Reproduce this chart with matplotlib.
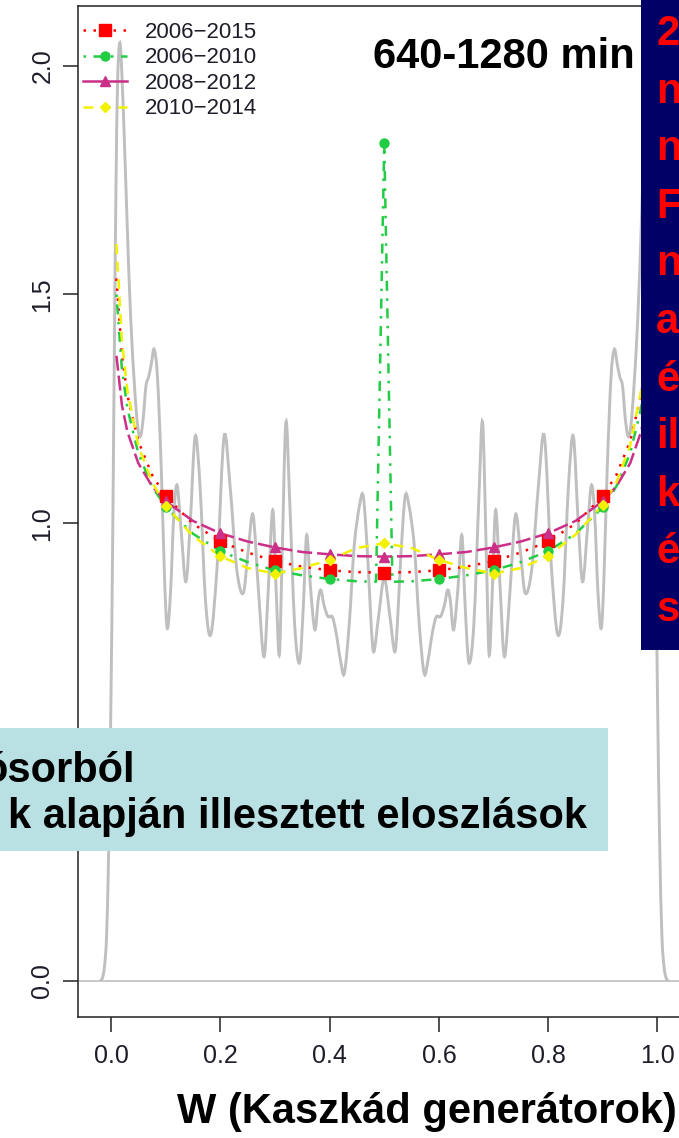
import matplotlib
matplotlib.use("Agg")
import matplotlib.pyplot as plt
from matplotlib.path import Path
from matplotlib.patches import PathPatch, Rectangle
from matplotlib.lines import Line2D
import numpy as np

plt.rcParams['font.family'] = ['Liberation Sans', 'DejaVu Sans']

W, H = 679, 1138

# ---- data -------------------------------------------------------------
series_labels = ["2006\u22122015", "2006\u22122010", "2008\u22122012", "2010\u22122014"]
series_colors = ["#ff0000", "#22cc44", "#cc2f88", "#f2f200"]

marker_x = [0.1, 0.2, 0.3, 0.4, 0.5, 0.6, 0.7, 0.8, 0.9]
red_marker_y = [1.059, 0.960, 0.917, 0.897, 0.892, 0.897, 0.917, 0.960, 1.059]
green_marker_y = [1.035, 0.939, 0.897, 0.878, 1.830, 0.878, 0.897, 0.939, 1.035]
magenta_marker_y = [1.048, 0.978, 0.947, 0.932, 0.927, 0.932, 0.947, 0.978, 1.048]
yellow_marker_y = [1.038, 0.928, 0.890, 0.920, 0.956, 0.920, 0.890, 0.928, 1.040]

curve_x = [0.01, 0.02, 0.03, 0.05, 0.075, 0.1, 0.15, 0.2, 0.25, 0.3, 0.35, 0.4, 0.45, 0.5,
           0.55, 0.6, 0.65, 0.7, 0.75, 0.8, 0.85, 0.9, 0.925, 0.95, 0.97, 0.98, 0.99]
red_curve_y = [1.535, 1.368, 1.280, 1.179, 1.106, 1.059, 0.999, 0.960, 0.936, 0.917, 0.905, 0.897, 0.893, 0.892,
               0.893, 0.897, 0.905, 0.917, 0.936, 0.960, 0.999, 1.059, 1.106, 1.179, 1.280, 1.368, 1.535]
magenta_curve_y = [1.366, 1.258, 1.200, 1.131, 1.081, 1.048, 1.005, 0.978, 0.960, 0.947, 0.937, 0.932, 0.928, 0.927,
                   0.928, 0.932, 0.937, 0.947, 0.960, 0.978, 1.005, 1.048, 1.081, 1.131, 1.200, 1.258, 1.366]
yellow_curve_y = [1.610, 1.400, 1.290, 1.170, 1.090, 1.038, 0.972, 0.928, 0.902, 0.890, 0.902, 0.920, 0.946, 0.956,
                  0.946, 0.920, 0.902, 0.890, 0.902, 0.928, 0.975, 1.040, 1.090, 1.170, 1.290, 1.400, 1.610]
green_curve_x = [0.01, 0.02, 0.03, 0.05, 0.075, 0.1, 0.15, 0.2, 0.25, 0.3, 0.35, 0.4, 0.45, 0.485, 0.5, 0.515,
                 0.55, 0.6, 0.65, 0.7, 0.75, 0.8, 0.85, 0.9, 0.925, 0.95, 0.97, 0.98, 0.99]
green_curve_y = [1.500, 1.337, 1.251, 1.153, 1.081, 1.035, 0.977, 0.939, 0.915, 0.897, 0.886, 0.878, 0.873, 0.872,
                 1.830, 0.872, 0.873, 0.878, 0.886, 0.897, 0.915, 0.939, 0.977, 1.035, 1.081, 1.153, 1.251, 1.337, 1.500]

# empirical density of W
gray_x = [-0.020, -0.016, -0.012, -0.008, -0.004, 0.000, 0.003, 0.006, 0.009, 0.012, 0.016, 0.020, 0.025,
          0.030, 0.036, 0.043, 0.049, 0.054, 0.059, 0.064, 0.069, 0.074, 0.079, 0.085, 0.092, 0.098, 0.103,
          0.109, 0.115, 0.121, 0.128, 0.137, 0.145, 0.154, 0.163, 0.173, 0.183, 0.195, 0.207, 0.218, 0.230,
          0.242, 0.251, 0.260, 0.270, 0.280, 0.288, 0.296, 0.302, 0.308, 0.313, 0.320, 0.327, 0.336, 0.345,
          0.352, 0.358, 0.365, 0.373, 0.379, 0.384, 0.390, 0.397, 0.405, 0.412, 0.420, 0.427, 0.436, 0.445,
          0.455, 0.462, 0.470, 0.476, 0.481, 0.490, 0.500,
          0.510, 0.519, 0.524, 0.530, 0.538, 0.545, 0.555, 0.564, 0.573, 0.580, 0.588, 0.595, 0.603, 0.610,
          0.616, 0.621, 0.627, 0.635, 0.642, 0.648, 0.655, 0.664, 0.673, 0.680, 0.687, 0.692, 0.698, 0.704,
          0.712, 0.720, 0.730, 0.740, 0.749, 0.758, 0.770, 0.782, 0.793, 0.805, 0.817, 0.827, 0.837, 0.846,
          0.855, 0.863, 0.872, 0.879, 0.885, 0.891, 0.897, 0.902, 0.908, 0.915, 0.921, 0.926, 0.931, 0.936,
          0.941, 0.946, 0.951, 0.957, 0.964, 0.970, 0.975, 0.980, 0.984, 0.988, 0.991, 0.994, 0.997, 1.000,
          1.004, 1.008, 1.012, 1.016, 1.020]
gray_y = [0.000, 0.005, 0.030, 0.100, 0.300, 0.620, 0.950, 1.350, 1.720, 1.960, 2.050, 1.980, 1.820,
          1.640, 1.450, 1.300, 1.210, 1.190, 1.230, 1.300, 1.320, 1.350, 1.380, 1.320, 1.120, 0.880, 0.770,
          0.850, 1.020, 1.083, 0.990, 0.872, 1.000, 1.190, 1.080, 0.830, 0.758, 0.920, 1.190, 1.080, 0.900,
          0.847, 0.940, 1.018, 0.850, 0.708, 0.860, 1.029, 0.860, 0.712, 0.920, 1.220, 1.050, 0.780, 0.695,
          0.820, 0.974, 0.860, 0.767, 0.830, 0.854, 0.820, 0.796, 0.795, 0.760, 0.700, 0.672, 0.780, 0.950,
          1.040, 1.056, 0.920, 0.780, 0.719, 0.800, 0.880,
          0.800, 0.719, 0.780, 0.920, 1.056, 1.040, 0.950, 0.780, 0.672, 0.700, 0.760, 0.795, 0.796, 0.820,
          0.854, 0.830, 0.767, 0.860, 0.974, 0.820, 0.695, 0.780, 1.050, 1.220, 0.920, 0.712, 0.860, 1.029,
          0.860, 0.708, 0.850, 1.018, 0.940, 0.847, 0.900, 1.080, 1.190, 0.920, 0.758, 0.830, 1.080, 1.190,
          1.000, 0.872, 0.990, 1.083, 1.020, 0.850, 0.770, 0.880, 1.120, 1.320, 1.380, 1.350, 1.320, 1.300,
          1.230, 1.190, 1.210, 1.300, 1.450, 1.640, 1.820, 1.980, 2.050, 1.960, 1.720, 1.350, 0.950, 0.620,
          0.300, 0.100, 0.030, 0.005, 0.000]

x_ticks = [0.0, 0.2, 0.4, 0.6, 0.8, 1.0]
y_ticks = [0.0, 0.5, 1.0, 1.5, 2.0]
y_tick_labels = ["0.0", "", "1.0", "1.5", "2.0"]

side_lines = ["2", "n", "n", "F", "n", "a", "\u00e9", "il", "k", "\u00e9", "s"]
box_lines = ["\u00f3sorb\u00f3l", "k alapj\u00e1n illesztett eloszl\u00e1sok"]


def smooth_path(xs, ys):
    """Cubic Bezier path passing through every (x, y) point."""
    pts = np.column_stack([xs, ys]).astype(float)
    n = len(pts)
    verts = [pts[0]]
    codes = [Path.MOVETO]
    for i in range(n - 1):
        p0 = pts[max(i - 1, 0)]
        p1 = pts[i]
        p2 = pts[i + 1]
        p3 = pts[min(i + 2, n - 1)]
        verts += [p1 + (p2 - p0) / 6.0, p2 - (p3 - p1) / 6.0, p2]
        codes += [Path.CURVE4] * 3
    return Path(verts, codes)


def fx(px):
    return px / W


def fy(py):
    return 1 - py / H


# ---- figure -----------------------------------------------------------
fig = plt.figure(figsize=(W / 100, H / 100), dpi=100)
fig.patch.set_facecolor("white")

ax_left, ax_right, ax_top, ax_bottom = 77.7, 691.0, 6.0, 1016.7
ax = fig.add_axes([fx(ax_left), fy(ax_bottom), (ax_right - ax_left) / W, (ax_bottom - ax_top) / H])
ax.set_xlim(-0.0609, 1.0613)
ax.set_ylim(-0.0787, 2.1305)

ax.axhline(0, color="#c4c4c4", lw=1.3, zorder=1)
ax.add_patch(PathPatch(smooth_path(gray_x, gray_y), facecolor="none",
                       edgecolor="#bfbfbf", lw=2.1, zorder=2))

line_styles = [(0, (1, 3)), (0, (1, 3, 4, 3)), (0, (6, 2)), (0, (4, 3))]
markers = ["s", "o", "^", "D"]
marker_sizes = [8, 6.5, 7.5, 5.5]

curves = [
    (curve_x, red_curve_y, red_marker_y),
    (green_curve_x, green_curve_y, green_marker_y),
    (curve_x, magenta_curve_y, magenta_marker_y),
    (curve_x, yellow_curve_y, yellow_marker_y),
]
for (cx, cy, my), col, ls, mk, ms in zip(curves, series_colors, line_styles, markers, marker_sizes):
    ax.plot(cx, cy, color=col, ls=ls, lw=1.8, zorder=3)
    ax.plot(marker_x, my, ls="none", marker=mk, ms=ms, color=col, mec=col, zorder=4)

ax.set_xticks(x_ticks)
ax.set_xticklabels([f"{v:.1f}" for v in x_ticks])
ax.set_yticks(y_ticks)
ax.set_yticklabels(y_tick_labels, rotation=90, va="center")
ax.tick_params(axis="both", length=10.8, width=1.1, color="#222222", labelsize=18,
               labelcolor="#1e1e2a")
ax.tick_params(axis="x", pad=9)
ax.tick_params(axis="y", pad=6)
for s in ax.spines.values():
    s.set_linewidth(1.1)
    s.set_color("#222222")

legend_styles = [(0, (1, 3)), (0, (1, 3, 4, 3)), "-", (0, (4, 3))]
handles = [Line2D([], [], color=c, ls=ls, lw=1.8, marker=m, ms=ms, mec=c)
           for c, ls, m, ms in zip(series_colors, legend_styles, markers, marker_sizes)]
ax.legend(handles, series_labels, loc="upper left", bbox_to_anchor=(fx(83), fy(22)),
          bbox_transform=fig.transFigure, frameon=False, fontsize=16, handlelength=2.0,
          handletextpad=0.8, labelspacing=0.2, borderpad=0, borderaxespad=0,
          numpoints=1, labelcolor="#1e1e2a")

# ---- annotations --------------------------------------------------------
fig.text(fx(635), fy(68), "640-1280 min", ha="right", va="baseline",
         fontsize=30, fontweight="bold", color="black")
fig.text(fx(677), fy(1123), "W (Kaszk\u00e1d gener\u00e1torok)", ha="right", va="baseline",
         fontsize=30, fontweight="bold", color="black")

fig.add_artist(Rectangle((fx(641), fy(650)), (W - 641) / W, 650 / H, transform=fig.transFigure,
                         facecolor="#000066", edgecolor="none", zorder=10))
for i, s in enumerate(side_lines):
    fig.text(fx(656), fy(45 + 57.6 * i), s, ha="left", va="baseline", fontsize=30,
             fontweight="bold", color="#ff0000", zorder=11)

fig.add_artist(Rectangle((0, fy(851)), 608 / W, 123 / H, transform=fig.transFigure,
                         facecolor="#b9e0e3", edgecolor="none", zorder=10))
fig.text(fx(135), fy(782), box_lines[0], ha="right", va="baseline", fontsize=30,
         fontweight="bold", color="black", zorder=11)
fig.text(fx(587), fy(828), box_lines[1], ha="right", va="baseline", fontsize=30,
         fontweight="bold", color="black", zorder=11)

fig.savefig("out.png", dpi=100)
